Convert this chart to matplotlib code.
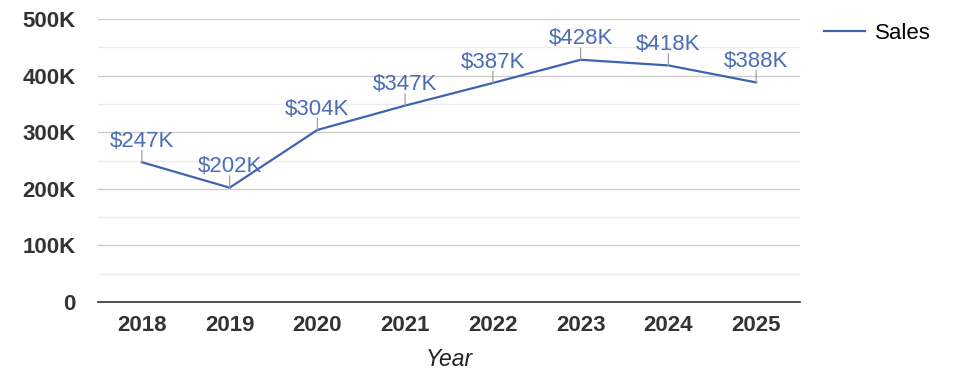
import matplotlib.pyplot as plt
from matplotlib.ticker import MultipleLocator, FuncFormatter

years = ['2018', '2019', '2020', '2021', '2022', '2023', '2024', '2025']
sales = [247000, 202000, 304000, 347000, 387000, 428000, 418000, 388000]
labels = ['$247K', '$202K', '$304K', '$347K', '$387K', '$428K', '$418K', '$388K']

plt.rcParams['font.family'] = ['Liberation Sans', 'DejaVu Sans']

fig = plt.figure(figsize=(9.75, 3.78), dpi=100)
ax = fig.add_axes([0.1005, 0.201, 0.72, 0.7487])

xs = range(len(years))
line, = ax.plot(xs, sales, color='#3d64b0', lw=1.6, label='Sales')

for x, y, lab in zip(xs, sales, labels):
    # short grey leader from the point up to the label
    ax.annotate('', (x, y), xytext=(0, 8.5), textcoords='offset points',
                arrowprops=dict(arrowstyle='-', color='#a0a0a0', lw=0.9,
                                shrinkA=0, shrinkB=0))
    ax.annotate(lab, (x, y), xytext=(0, 11), textcoords='offset points',
                ha='center', va='baseline', fontsize=16, color='#4a6db5')

ax.set_xlim(-0.5, len(years) - 0.5)
ax.set_ylim(0, 500000)
ax.set_xticks(list(xs))
ax.set_xticklabels(years)
ax.yaxis.set_major_locator(MultipleLocator(100000))
ax.yaxis.set_minor_locator(MultipleLocator(50000))
ax.yaxis.set_major_formatter(FuncFormatter(lambda v, p: '0' if v == 0 else f'{int(v / 1000)}K'))

ax.grid(axis='y', which='major', color='#cccccc', lw=1)
ax.grid(axis='y', which='minor', color='#ececec', lw=1)
ax.set_axisbelow(True)

for s in ['top', 'right', 'left']:
    ax.spines[s].set_visible(False)
ax.spines['bottom'].set_color('#333333')
ax.spines['bottom'].set_linewidth(1.2)

ax.tick_params(axis='both', which='both', length=0)
ax.tick_params(axis='y', pad=16)
ax.tick_params(axis='x', pad=9)
for t in ax.get_xticklabels() + ax.get_yticklabels():
    t.set_fontsize(16)
    t.set_fontweight('bold')
    t.set_color('#333333')

ax.set_xlabel('Year', fontsize=16.5, style='italic', color='#222222', labelpad=9)

fig.legend(handles=[line], loc='upper left', bbox_to_anchor=(0.8246, 0.993),
           frameon=False, fontsize=16, handlelength=1.85, handletextpad=0.45)

fig.savefig('out.png', dpi=100)
